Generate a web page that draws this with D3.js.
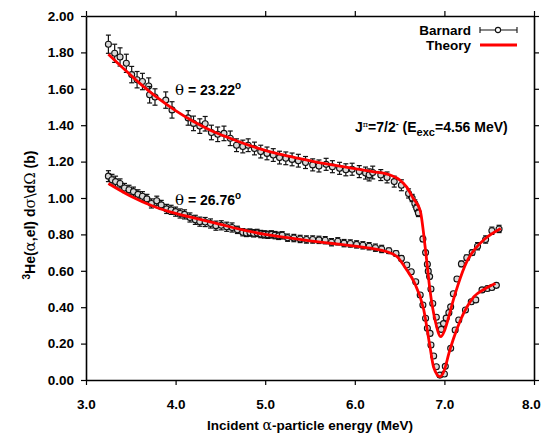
<!DOCTYPE html>
<html><head><meta charset="utf-8">
<script src="https://cdn.jsdelivr.net/npm/d3@7"></script>
<style>
body{margin:0;background:#fff;}
text{font-family:"Liberation Sans",Arial,Helvetica,sans-serif;font-weight:bold;fill:#000;}
.gr{font-family:"DejaVu Serif","Liberation Serif",serif;font-weight:normal;}
</style></head>
<body>
<svg id="c" width="542" height="433"></svg>
<script>
// Data: [energy MeV, cross section b, error b]
const upperData = [
[3.25,1.845,0.05],[3.32,1.795,0.05],[3.38,1.775,0.05],[3.45,1.74,0.05],[3.51,1.678,0.045],
[3.57,1.65,0.045],[3.63,1.64,0.045],[3.70,1.615,0.045],[3.71,1.567,0.045],[3.77,1.555,0.045],
[3.89,1.538,0.045],[3.96,1.484,0.045],[4.14,1.44,0.04],[4.20,1.41,0.04],[4.27,1.395,0.04],
[4.33,1.408,0.04],[4.40,1.36,0.04],[4.47,1.35,0.04],[4.54,1.355,0.04],[4.61,1.328,0.04],
[4.68,1.29,0.035],[4.75,1.283,0.035],[4.81,1.29,0.035],[4.88,1.272,0.035],[4.95,1.255,0.035],
[5.02,1.245,0.035],[5.09,1.236,0.035],[5.16,1.222,0.035],[5.23,1.218,0.035],[5.30,1.212,0.035],
[5.37,1.205,0.035],[5.45,1.195,0.033],[5.53,1.182,0.033],[5.60,1.176,0.033],[5.68,1.185,0.033],
[5.75,1.172,0.033],[5.83,1.163,0.033],[5.90,1.155,0.033],[5.97,1.158,0.033],[6.05,1.145,0.033],
[6.12,1.137,0.033],[6.16,1.127,0.033],[6.20,1.14,0.035],[6.29,1.126,0.03],[6.36,1.113,0.03],
[6.44,1.09,0.03],[6.52,1.07,0.03],[6.60,1.025,0.025],[6.64,1.0,0.02],[6.67,0.97,0.02],
[6.69,0.945,0.02],[6.71,0.918,0.02],[6.76,0.775,0.015],[6.79,0.70,0.012],[6.81,0.636,0.012],
[6.82,0.598,0.012],[6.835,0.568,0.012],[6.85,0.50,0.012],[6.87,0.42,0.01],[6.91,0.345,0.01],
[6.94,0.298,0.01],[6.965,0.278,0.01],[6.99,0.31,0.01],[7.02,0.34,0.01],[7.05,0.37,0.01],
[7.07,0.402,0.01],[7.10,0.474,0.012],[7.14,0.555,0.012],[7.19,0.638,0.015],[7.25,0.672,0.015],
[7.31,0.70,0.015],[7.37,0.735,0.02],[7.46,0.772,0.02],[7.53,0.82,0.02],[7.61,0.83,0.02]
];
const lowerData = [
[3.25,1.12,0.03],[3.29,1.10,0.03],[3.33,1.09,0.03],[3.38,1.08,0.025],[3.43,1.055,0.025],
[3.48,1.045,0.025],[3.53,1.035,0.025],[3.58,1.02,0.025],[3.63,1.01,0.025],[3.68,0.995,0.025],
[3.73,0.97,0.025],[3.79,0.985,0.025],[3.84,0.962,0.025],[3.90,0.94,0.025],[3.95,0.935,0.025],
[4.00,0.925,0.025],[4.05,0.915,0.025],[4.10,0.91,0.025],[4.16,0.893,0.025],[4.22,0.88,0.025],
[4.27,0.87,0.025],[4.33,0.868,0.025],[4.39,0.86,0.025],[4.45,0.848,0.025],[4.51,0.85,0.025],
[4.57,0.842,0.025],[4.63,0.838,0.025],[4.69,0.825,0.02],[4.75,0.812,0.02],[4.79,0.808,0.02],
[4.83,0.81,0.02],[4.87,0.806,0.02],[4.91,0.808,0.02],[4.95,0.802,0.02],[4.99,0.80,0.02],
[5.03,0.798,0.02],[5.07,0.80,0.02],[5.11,0.796,0.02],[5.15,0.792,0.02],[5.19,0.795,0.02],
[5.25,0.782,0.02],[5.32,0.78,0.02],[5.39,0.775,0.02],[5.46,0.772,0.02],[5.53,0.772,0.02],
[5.60,0.77,0.02],[5.67,0.768,0.02],[5.74,0.757,0.02],[5.81,0.762,0.02],[5.88,0.752,0.02],
[5.95,0.75,0.02],[6.02,0.745,0.02],[6.09,0.74,0.02],[6.16,0.735,0.02],[6.23,0.727,0.02],
[6.30,0.72,0.02],[6.38,0.71,0.015],[6.46,0.695,0.015],[6.52,0.668,0.015],[6.58,0.632,0.012],
[6.63,0.595,0.012],[6.68,0.54,0.01],[6.73,0.467,0.01],[6.76,0.412,0.01],[6.79,0.339,0.01],
[6.81,0.284,0.01],[6.84,0.256,0.01],[6.85,0.192,0.01],[6.88,0.132,0.01],[6.91,0.073,0.01],
[6.95,0.027,0.01],[7.00,0.033,0.01],[7.01,0.075,0.01],[7.07,0.174,0.01],[7.12,0.275,0.01],
[7.16,0.33,0.01],[7.235,0.385,0.01],[7.30,0.43,0.012],[7.35,0.44,0.012],[7.42,0.495,0.012],
[7.48,0.503,0.012],[7.53,0.508,0.012],[7.58,0.52,0.012]
];
// Theory curves: [energy, cross section]
const upperTheory = [
[3.25,1.79],[3.4,1.72],[3.6,1.63],[3.8,1.55],[4.0,1.48],[4.2,1.42],[4.4,1.37],[4.6,1.33],
[4.8,1.293],[5.0,1.262],[5.2,1.237],[5.4,1.215],[5.6,1.195],[5.8,1.178],[6.0,1.162],[6.2,1.145],
[6.4,1.125],[6.5,1.10],[6.58,1.06],[6.65,1.0],[6.73,0.93],[6.79,0.71],[6.84,0.49],[6.9,0.32],
[6.96,0.238],[7.0,0.27],[7.05,0.35],[7.1,0.44],[7.15,0.52],[7.25,0.65],[7.35,0.725],[7.45,0.775],[7.63,0.833]
];
const lowerTheory = [
[3.25,1.08],[3.5,1.01],[3.75,0.955],[4.0,0.915],[4.25,0.885],[4.5,0.855],[4.75,0.825],[5.0,0.80],
[5.25,0.782],[5.5,0.765],[5.75,0.75],[6.0,0.735],[6.2,0.722],[6.35,0.706],[6.47,0.678],[6.58,0.604],
[6.66,0.54],[6.77,0.385],[6.84,0.18],[6.88,0.07],[6.95,0.018],[7.0,0.055],[7.05,0.146],[7.1,0.225],
[7.18,0.33],[7.25,0.40],[7.33,0.458],[7.45,0.50],[7.57,0.53]
];
const xTicks = [3,4,5,6,7,8];
const yTicks = [0,0.2,0.4,0.6,0.8,1.0,1.2,1.4,1.6,1.8,2.0];

const svg = d3.select("#c");
const L=86, R=534, T=16, B=380;
const x = d3.scaleLinear().domain([3,8]).range([L,R]);
const y = d3.scaleLinear().domain([0,2]).range([B,T]);

function styleAxis(g){
  g.select(".domain").attr("stroke","#000").attr("stroke-width",1.6);
  g.selectAll(".tick line").attr("stroke","#000").attr("stroke-width",1.2);
  g.selectAll(".tick text").style("font-size","13.5px").style("font-weight","bold")
   .style("font-family","'Liberation Sans',Arial,sans-serif");
}
const xa = svg.append("g").attr("transform",`translate(0,${B})`)
  .call(d3.axisBottom(x).tickValues(xTicks).tickFormat(d3.format(".1f")).tickSize(5).tickSizeOuter(0).tickPadding(14))
  .call(styleAxis);
xa.selectAll(".tick text").filter(d=>d===8).attr("dx",-3);
svg.append("g").attr("transform",`translate(0,${T})`)
  .call(d3.axisTop(x).tickValues(xTicks).tickFormat("").tickSize(5).tickSizeOuter(0))
  .call(styleAxis);
svg.append("g").attr("transform",`translate(${L},0)`)
  .call(d3.axisLeft(y).tickValues(yTicks).tickFormat(d3.format(".2f")).tickSize(5).tickSizeOuter(0).tickPadding(7))
  .call(styleAxis);
svg.append("g").attr("transform",`translate(${R},0)`)
  .call(d3.axisRight(y).tickValues(yTicks).tickFormat("").tickSize(5).tickSizeOuter(0))
  .call(styleAxis);

// data with error bars
function drawSeries(data){
  const g = svg.append("g");
  const pts = g.selectAll("g.p").data(data).enter().append("g");
  pts.append("line").attr("x1",d=>x(d[0])).attr("x2",d=>x(d[0]))
    .attr("y1",d=>y(d[1]-d[2])).attr("y2",d=>y(d[1]+d[2])).attr("stroke","#111").attr("stroke-width",1.2);
  [1,-1].forEach(s=>{
    pts.append("line").attr("x1",d=>x(d[0])-2.5).attr("x2",d=>x(d[0])+2.5)
      .attr("y1",d=>y(d[1]+s*d[2])).attr("y2",d=>y(d[1]+s*d[2])).attr("stroke","#111").attr("stroke-width",1.2);
  });
  pts.append("circle").attr("cx",d=>x(d[0])).attr("cy",d=>y(d[1])).attr("r",3)
    .attr("fill","#d8d8d8").attr("stroke","#111").attr("stroke-width",1.1);
}
drawSeries(upperData);
drawSeries(lowerData);

const line = d3.line().x(d=>x(d[0])).y(d=>y(d[1])).curve(d3.curveMonotoneX);
[upperTheory, lowerTheory].forEach(t=>{
  svg.append("path").datum(t).attr("d",line).attr("fill","none")
    .attr("stroke","#ff0000").attr("stroke-width",2.8).attr("stroke-linejoin","round");
});

// Legend
svg.append("text").attr("x",471).attr("y",35).attr("text-anchor","end").style("font-size","13.5px").text("Barnard");
svg.append("line").attr("x1",480).attr("x2",517).attr("y1",30).attr("y2",30).attr("stroke","#111").attr("stroke-width",1.1);
[480,517].forEach(v=>svg.append("line").attr("x1",v).attr("x2",v).attr("y1",27).attr("y2",33).attr("stroke","#111").attr("stroke-width",1.1));
svg.append("circle").attr("cx",498).attr("cy",30).attr("r",2.6).attr("fill","#fff").attr("stroke","#111").attr("stroke-width",1.1);
svg.append("text").attr("x",471).attr("y",50).attr("text-anchor","end").style("font-size","13.5px").text("Theory");
svg.append("line").attr("x1",480).attr("x2",517).attr("y1",45).attr("y2",45).attr("stroke","#ff0000").attr("stroke-width",2.8);

// Annotations
function theta(yb, val){
  const t = svg.append("text").attr("x",175).attr("y",yb).style("font-size","14px");
  t.append("tspan").attr("class","gr").style("font-size","15px").text("θ");
  t.append("tspan").text(" = "+val);
  t.append("tspan").attr("dy",-6).style("font-size","10px").text("o");
}
theta(95,"23.22");
theta(205,"26.76");

const j = svg.append("text").attr("x",355).attr("y",132).style("font-size","14px");
j.append("tspan").text("J");
j.append("tspan").attr("dy",-5).style("font-size","8px").attr("class","gr").text("π");
j.append("tspan").attr("dy",5).text("=7/2");
j.append("tspan").attr("dy",-5).style("font-size","9px").text("-");
j.append("tspan").attr("dy",5).text(" (E");
j.append("tspan").attr("dy",4).style("font-size","11px").text("exc");
j.append("tspan").attr("dy",-4).text("=4.56 MeV)");

// Axis titles
const xt = svg.append("text").attr("x",310).attr("y",430).attr("text-anchor","middle").style("font-size","13.5px");
xt.append("tspan").text("Incident ");
xt.append("tspan").attr("class","gr").style("font-size","14px").text("α");
xt.append("tspan").text("-particle energy (MeV)");

const yt = svg.append("text").attr("transform","translate(35,215) rotate(-90)").attr("text-anchor","middle").style("font-size","14px");
yt.append("tspan").attr("dy",-5).style("font-size","10px").text("3");
yt.append("tspan").attr("dy",5).text("He(");
yt.append("tspan").attr("class","gr").style("font-size","15px").text("α");
yt.append("tspan").text(",el) d");
yt.append("tspan").attr("class","gr").style("font-size","15px").text("σ\\");
yt.append("tspan").text("d");
yt.append("tspan").attr("class","gr").style("font-size","15px").text("Ω");
yt.append("tspan").text(" (b)");
</script>
</body></html>
